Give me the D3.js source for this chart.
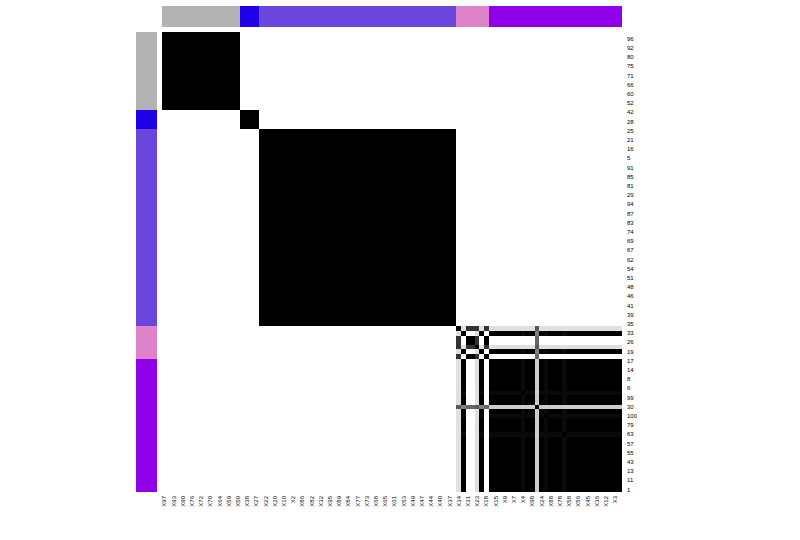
<!DOCTYPE html>
<html><head><meta charset="utf-8">
<script src="https://cdn.jsdelivr.net/npm/d3@7"></script>
<style>body{margin:0;background:#fff;} text{font-family:"Liberation Sans",Arial,sans-serif;}</style>
</head><body>
<svg id="chart" width="800" height="540"></svg>
<script>
// sample order (left->right, top->bottom)
const sampleOrder = [97,96,93,92,90,80,76,75,72,71,70,66,64,60,59,52,50,
  42,38,28,27,
  25,22,21,20,16,10,5,2,91,86,85,82,81,32,29,95,94,89,87,84,83,77,74,73,69,68,67,65,62,61,54,53,51,49,48,47,46,44,41,40,39,37,35,
  34,33,31,26,23,19,18,
  17,15,14,9,8,7,6,4,99,98,30,24,100,88,79,78,63,58,57,56,55,45,43,36,13,12,11,3,1];
// cluster annotation
const clusterSizes = [17,4,43,7,29];
const clusterColors = ["#B3B3B3","#2000E8","#6B46DC","#DE82CA","#9000E8"];
// sub-groups used to read consensus values off the picture
const subgroupA = [33,19];          // pink samples that go with violet
const subgroupB = [31,26,18];       // pink core
const subgroupC = [34,23];          // pink, weakly with violet
const subgroupVs = [4,100,63];      // violet, slightly weaker
const subgroupV30 = [30];           // violet, fuzzy
// consensus between sub-groups [g1, g2, value]
const consensusPairs = [
  ["G1","G1",1],["G2","G2",1],["G3","G3",1],
  ["A","A",1],["B","B",1],["C","C",0.8],["A","B",0],["A","C",0.12],["B","C",0.8],
  ["A","V",1],["A","Vs",0.96],["A","V30",0.5],
  ["B","V",0],["B","Vs",0],["B","V30",0.6],
  ["C","V",0.12],["C","Vs",0.12],["C","V30",0.65],
  ["V","V",1],["V","Vs",0.96],["Vs","Vs",0.96],["V","V30",0.2],["Vs","V30",0.2],["V30","V30",1]
];

const n = sampleOrder.length;
const clusterOf = [];
clusterSizes.forEach((s,i)=>{for(let k=0;k<s;k++) clusterOf.push(i);});
function subgroup(idx){
  const s = sampleOrder[idx], c = clusterOf[idx];
  if (c===0) return "G1"; if (c===1) return "G2"; if (c===2) return "G3";
  if (subgroupA.includes(s)) return "A";
  if (subgroupB.includes(s)) return "B";
  if (subgroupC.includes(s)) return "C";
  if (subgroupVs.includes(s)) return "Vs";
  if (subgroupV30.includes(s)) return "V30";
  return "V";
}
const table = new Map();
consensusPairs.forEach(([a,b,v])=>{table.set(a+"|"+b,v);table.set(b+"|"+a,v);});
const cells = [];
for (let i=0;i<n;i++) for (let j=0;j<n;j++){
  const v = i===j ? 1 : (table.get(subgroup(i)+"|"+subgroup(j)) ?? 0);
  cells.push({i,j,v});
}

const svg = d3.select("#chart");
const mLeft = 162, mTop = 32, mSize = 460;
const x = d3.scaleBand().domain(d3.range(n)).range([mLeft,mLeft+mSize]);
const y = d3.scaleBand().domain(d3.range(n)).range([mTop,mTop+mSize]);
const color = d3.scaleLinear().domain([0,1]).range(["#ffffff","#000000"]);

svg.append("g").selectAll("rect").data(cells).join("rect")
  .attr("x",d=>x(d.i)).attr("y",d=>y(d.j))
  .attr("width",x.bandwidth()+0.3).attr("height",y.bandwidth()+0.3)
  .attr("fill",d=>color(d.v)).attr("shape-rendering","crispEdges");

// annotation bars
svg.append("g").selectAll("rect").data(d3.range(n)).join("rect")
  .attr("x",d=>x(d)).attr("y",6).attr("width",x.bandwidth()+0.3).attr("height",21)
  .attr("fill",d=>clusterColors[clusterOf[d]]).attr("shape-rendering","crispEdges");
svg.append("g").selectAll("rect").data(d3.range(n)).join("rect")
  .attr("x",136).attr("y",d=>y(d)).attr("width",21).attr("height",y.bandwidth()+0.3)
  .attr("fill",d=>clusterColors[clusterOf[d]]).attr("shape-rendering","crispEdges");

// row labels (every other, starting with 2nd)
const rowAxis = d3.axisRight(y).tickSize(0).tickPadding(0)
  .tickValues(d3.range(1,n,2)).tickFormat(d=>String(sampleOrder[d]));
const ga = svg.append("g").attr("transform",`translate(${mLeft+mSize+5},0)`).call(rowAxis);
ga.select(".domain").remove();
ga.selectAll("text").attr("font-size",6).attr("fill","#000").attr("font-family","Liberation Sans, Arial, sans-serif");

// column labels (every other, starting with 1st)
const colAxis = d3.axisBottom(x).tickSize(0).tickPadding(0)
  .tickValues(d3.range(0,n,2)).tickFormat(d=>"X"+sampleOrder[d]);
const gb = svg.append("g").attr("transform",`translate(0,${mTop+mSize+4})`).call(colAxis);
gb.select(".domain").remove();
gb.selectAll("text").attr("font-size",6).attr("fill","#000")
  .attr("font-family","Liberation Sans, Arial, sans-serif")
  .attr("transform","rotate(-90)").attr("text-anchor","end")
  .attr("x",0).attr("y",0).attr("dx",0).attr("dy","0.35em");
</script>
</body></html>
